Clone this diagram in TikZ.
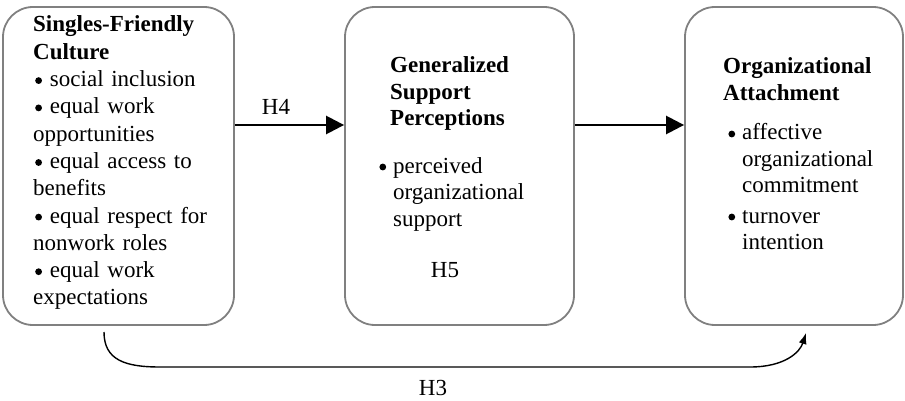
\documentclass[tikz,border=0pt]{standalone}
\usepackage{fontspec}
\setmainfont{Liberation Serif}
\usetikzlibrary{arrows.meta}
\definecolor{boxgray}{RGB}{128,128,128}
\newcommand{\dotb}{\tikz[x=1pt,y=1pt,baseline=0pt]\fill[black] (3.5pt,6pt) circle[radius=3.4pt];}
\newcommand{\bulA}{\hspace*{2pt}\dotb\hspace{8pt}}
\newcommand{\bulB}{\llap{\dotb\hspace{7pt}}}
\tikzset{
  box/.style={draw=boxgray, line width=1.8pt, rounded corners=30pt, inner sep=0pt, minimum height=318pt},
  txt/.style={inner sep=0pt, anchor=base west, align=left, text width=230pt, font=\fontsize{23}{26.5}\selectfont},
  lbl/.style={inner sep=0pt, anchor=base, font=\fontsize{23}{27}\selectfont},
  bigarr/.style={line width=2.5pt, -{Triangle[length=18pt,width=18pt]}},
  thinarr/.style={line width=1.4pt, -{Latex[length=11pt,width=8pt]}}
}
\begin{document}
\begin{tikzpicture}[x=1pt,y=-1pt]
\useasboundingbox (0,0) rectangle (905,401);
% boxes
\node[box, minimum width=231pt] (b1) at (118.5,166) {};
\node[box, minimum width=229pt] (b2) at (459.5,166) {};
\node[box, minimum width=218pt] (b3) at (794,166) {};
% box 1 text
\node[txt, font=\fontsize{23}{27.3}\selectfont] (t1) at (33,32) {\textbf{Singles-Friendly}\\
\textbf{Culture}\\
\bulA social inclusion\\
\bulA equal work\\
opportunities\\
\bulA equal access to\\
benefits\\
\bulA equal respect for\\
nonwork roles\\
\bulA equal work\\
expectations};
% box 2 text
\node[txt] (t2h) at (390,73) {\textbf{Generalized}\\
\textbf{Support}\\
\textbf{Perceptions}};
\node[txt] (t2l) at (393,173) {\bulB perceived\\
organizational\\
support};
\node[lbl] (h5) at (445,277) {H5};
% box 3 text
\node[txt] (t3h) at (723,74) {\textbf{Organizational}\\
\textbf{Attachment}};
\node[txt] (t3a) at (742,140) {\bulB affective\\
organizational\\
commitment};
\node[txt] (t3b) at (742,223) {\bulB turnover\\
intention};
% arrows
\coordinate (ay) at (0,125);
\draw[bigarr] (b1.east |- ay) -- (b2.west |- ay);
\draw[bigarr] (b2.east |- ay) -- (b3.west |- ay);
\node[lbl] (h4) at (276,115) {H4};
% H3 curve
\coordinate (cs) at (104,332);
\coordinate (ce) at (806,333);
\draw[thinarr] (cs) .. controls (104,360) and (125,367) .. (160,367) -- (750,367) .. controls (785,367) and (800,352) .. (ce);
\node[lbl] (h3) at (433,395) {H3};
\end{tikzpicture}
\end{document}
